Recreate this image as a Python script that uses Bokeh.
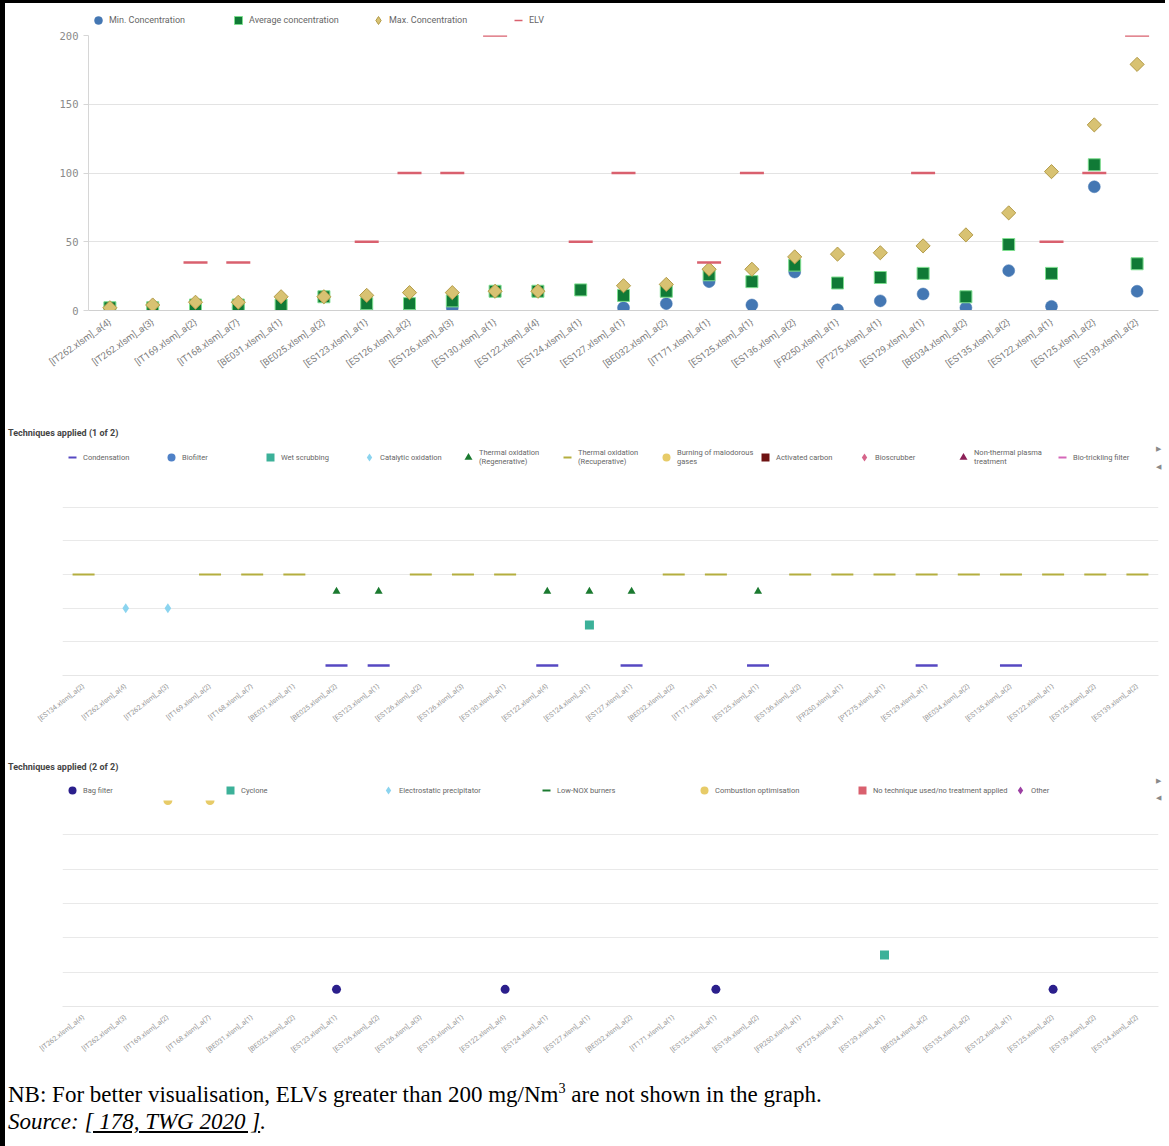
import math
from bokeh.plotting import figure
from bokeh.models import (ColumnDataSource, FactorRange, Range1d, Legend, LegendItem,
                          FixedTicker, Div, Spacer)
from bokeh.layouts import column, row
from bokeh.embed import file_html
from bokeh.resources import INLINE

nan = float("nan")

# ---------------- data: concentration chart ----------------
categories = ["[IT262.xlsm]_a{4}", "[IT262.xlsm]_a{3}", "[IT169.xlsm]_a{2}", "[IT168.xlsm]_a{7}",
              "[BE031.xlsm]_a{1}", "[BE025.xlsm]_a{2}", "[ES123.xlsm]_a{1}", "[ES126.xlsm]_a{2}",
              "[ES126.xlsm]_a{3}", "[ES130.xlsm]_a{1}", "[ES122.xlsm]_a{4}", "[ES124.xlsm]_a{1}",
              "[ES127.xlsm]_a{1}", "[BE032.xlsm]_a{2}", "[IT171.xlsm]_a{1}", "[ES125.xlsm]_a{1}",
              "[ES136.xlsm]_a{2}", "[FR250.xlsm]_a{1}", "[PT275.xlsm]_a{1}", "[ES129.xlsm]_a{1}",
              "[BE034.xlsm]_a{2}", "[ES135.xlsm]_a{2}", "[ES122.xlsm]_a{1}", "[ES125.xlsm]_a{2}",
              "[ES139.xlsm]_a{2}"]
min_conc = [nan, nan, nan, 2, nan, nan, 1, 1, 2, nan, nan, nan, 2, 5, 21, 4, 28, 0.5, 7, 12,
            2, 29, 3, 90, 14]
avg_conc = [2, 2, 4, 4, 4, 10, 5, 5, 7, 14, 14, 15, 11, 14, 26, 21, 33, 20, 24, 27,
            10, 48, 27, 106, 34]
max_conc = [2, 4, 6, 6, 10, 10, 11, 13, 13, 14, 14, nan, 18, 19, 30, 30, 39, 41, 42, 47,
            55, 71, 101, 135, 179]
elv = [nan, nan, 35, 35, nan, nan, 50, 100, 100, 200, nan, 50, 100, nan, 35, 100, nan, nan,
       nan, 100, nan, nan, 50, 100, 200]
y_ticks = [0, 50, 100, 150, 200]

# ---------------- data: techniques (1 of 2) ----------------
categories_t1 = ["[ES134.xlsm]_a{2}"] + categories
condensation = ["[BE025.xlsm]_a{2}", "[ES123.xlsm]_a{1}", "[ES122.xlsm]_a{4}", "[ES127.xlsm]_a{1}",
                "[ES125.xlsm]_a{1}", "[ES129.xlsm]_a{1}", "[ES135.xlsm]_a{2}"]
biofilter = []
wet_scrubbing = ["[ES124.xlsm]_a{1}"]
catalytic_oxidation = ["[IT262.xlsm]_a{4}", "[IT262.xlsm]_a{3}"]
thermal_regenerative = ["[BE025.xlsm]_a{2}", "[ES123.xlsm]_a{1}", "[ES122.xlsm]_a{4}",
                        "[ES124.xlsm]_a{1}", "[ES127.xlsm]_a{1}", "[ES125.xlsm]_a{1}"]
thermal_recuperative = ["[ES134.xlsm]_a{2}", "[IT169.xlsm]_a{2}", "[IT168.xlsm]_a{7}",
                        "[BE031.xlsm]_a{1}", "[ES126.xlsm]_a{2}", "[ES126.xlsm]_a{3}",
                        "[ES130.xlsm]_a{1}", "[BE032.xlsm]_a{2}", "[IT171.xlsm]_a{1}",
                        "[ES136.xlsm]_a{2}", "[FR250.xlsm]_a{1}", "[PT275.xlsm]_a{1}",
                        "[ES129.xlsm]_a{1}", "[BE034.xlsm]_a{2}", "[ES135.xlsm]_a{2}",
                        "[ES122.xlsm]_a{1}", "[ES125.xlsm]_a{2}", "[ES139.xlsm]_a{2}"]
burning_malodorous = []
activated_carbon = []
bioscrubber = []
non_thermal_plasma = []
bio_trickling = []

# ---------------- data: techniques (2 of 2) ----------------
categories_t2 = categories + ["[ES134.xlsm]_a{2}"]
bag_filter = ["[ES123.xlsm]_a{1}", "[ES122.xlsm]_a{4}", "[ES125.xlsm]_a{1}", "[ES125.xlsm]_a{2}"]
cyclone = ["[ES129.xlsm]_a{1}"]
electrostatic = []
low_nox = []
combustion_optimisation = ["[IT169.xlsm]_a{2}", "[IT168.xlsm]_a{7}"]
no_technique = []
other = []

# row level of each technique on the technique charts
level = {"Condensation": 0.3, "Biofilter": 1.0, "Wet scrubbing": 1.5, "Catalytic oxidation": 2.0,
         "Thermal oxidation (Regenerative)": 2.5, "Thermal oxidation (Recuperative)": 3.0,
         "Burning of malodorous gases": 3.5, "Activated carbon": 4.0, "Bioscrubber": 4.5,
         "Non-thermal plasma treatment": 5.0, "Bio-trickling filter": 5.5,
         "Bag filter": 0.5, "Cyclone": 1.5, "Electrostatic precipitator": 2.5,
         "Low-NOX burners": 3.5, "Combustion optimisation": 6.0,
         "No technique used/no treatment applied": 4.5, "Other": 5.5}

FONT = "Roboto"
BAR_L, BAR_T = 5, 3   # black frame edges of the page
W = 1160              # width of the content column
LEFT = 57             # frame left of technique charts (inside content column)
RIGHT = 7
SHIFT = 26            # extra indent of the concentration chart
ARROW_W = 11


def legend_strip(height, left, specs, label_width, glyph_h, font_size, width=W, right=RIGHT):
    f = figure(x_range=Range1d(0, 1), y_range=Range1d(0, 1), width=width, height=height,
               output_backend="svg", toolbar_location=None, title_location=None,
               x_axis_location=None, y_axis_location=None,
               min_border_left=LEFT, min_border_right=right, min_border_top=0, min_border_bottom=0)
    f.outline_line_color = None
    f.grid.visible = False
    items = []
    for label, kw in specs:
        r = f.scatter(x=[nan], y=[nan], **kw)
        items.append(LegendItem(label=label, renderers=[r]))
    leg = Legend(items=items, orientation="horizontal", location=(left, 0), glyph_width=20,
                 glyph_height=glyph_h, label_height=glyph_h, label_width=label_width,
                 label_standoff=1, spacing=0, padding=0, margin=0, border_line_color=None,
                 background_fill_alpha=0, label_text_font=FONT, label_text_font_size=font_size,
                 label_text_color="#666666", label_text_line_height=1.05)
    f.add_layout(leg, "center")
    return f


def arrows_div(height, top1, top2):
    html = ("<div style='position:relative;width:11px;height:%dpx;'>"
            "<span style='position:absolute;left:2px;top:%dpx;'>&#9654;</span>"
            "<span style='position:absolute;left:2px;top:%dpx;'>&#9664;</span></div>") % (height, top1, top2)
    return Div(text=html, width=ARROW_W, height=height, margin=(0, 0, 0, 0),
               styles={"font-size": "7px", "line-height": "8px", "color": "#8a8a8a",
                       "overflow": "visible"})


# ================= concentration chart =================
style_min = dict(marker="circle", size=12, fill_color="#4477b3", line_color="#4477b3", line_width=0.5)
style_avg = dict(marker="square", size=12, fill_color="#107a36", line_color="#7ede8f", line_width=1)
style_max = dict(marker="square", angle=math.pi / 4, size=10, fill_color="#d8c272",
                 line_color="#b39b48", line_width=1)
style_elv = dict(marker="dash", size=24, line_color="#d9606e", line_width=2.5)

leg_top = legend_strip(30 - BAR_T, SHIFT,
                       [("Min. Concentration", dict(style_min, size=9)),
                        ("Average concentration", dict(style_avg, size=9)),
                        ("Max. Concentration", dict(marker="diamond", size=10, fill_color="#d8c272",
                                                    line_color="#b39b48", line_width=1)),
                        ("ELV", dict(style_elv, size=10, line_width=1.5))],
                       119, 20, "9px")

src = ColumnDataSource(dict(cat=categories, mn=min_conc, avg=avg_conc, mx=max_conc, elv=elv))
p = figure(x_range=FactorRange(*categories), y_range=Range1d(0, 200), width=W - SHIFT, height=391,
           output_backend="svg", toolbar_location=None, title_location=None,
           min_border_left=LEFT, min_border_right=RIGHT, min_border_top=5, min_border_bottom=111)
p.outline_line_color = None
p.scatter("cat", "mn", source=src, **style_min)
p.scatter("cat", "avg", source=src, **style_avg)
p.scatter("cat", "mx", source=src, **style_max)
p.scatter("cat", "elv", source=src, **style_elv)

p.xgrid.grid_line_color = None
p.ygrid.grid_line_color = "#e3e3e3"
p.yaxis.ticker = FixedTicker(ticks=y_ticks)
p.yaxis.axis_line_color = "#d6d6d6"
p.yaxis.major_tick_line_color = "#d6d6d6"
p.yaxis.major_tick_out = 5
p.yaxis.major_tick_in = 0
p.yaxis.minor_tick_line_color = None
p.yaxis.major_label_text_font = "DejaVu Sans Mono"
p.yaxis.major_label_text_font_size = "10.5px"
p.yaxis.major_label_text_color = "#8a8a8a"
p.yaxis.major_label_standoff = 5
p.xaxis.axis_line_color = "#d0d0d0"
p.xaxis.major_tick_line_color = None
p.xaxis.major_label_orientation = 0.62
p.xaxis.major_label_text_font = FONT
p.xaxis.major_label_text_font_size = "9.5px"
p.xaxis.major_label_text_color = "#808080"
p.xaxis.major_label_standoff = 4

top_row = row(Spacer(width=SHIFT, height=391), p, spacing=0)


def tech_fig(cats, height, border_top, border_bottom):
    f = figure(x_range=FactorRange(*cats), y_range=Range1d(0, 6), width=W, height=height,
               output_backend="svg", toolbar_location=None, title_location=None,
               y_axis_location=None,
               min_border_left=LEFT, min_border_right=RIGHT, min_border_top=border_top,
               min_border_bottom=border_bottom)
    f.outline_line_color = None
    f.xgrid.grid_line_color = None
    f.ygrid.ticker = FixedTicker(ticks=[1, 2, 3, 4, 5, 6])
    f.ygrid.grid_line_color = "#e9e9e9"
    f.xaxis.axis_line_color = "#e6e6e6"
    f.xaxis.major_tick_line_color = None
    f.xaxis.major_label_orientation = 0.66
    f.xaxis.major_label_text_font = FONT
    f.xaxis.major_label_text_font_size = "7px"
    f.xaxis.major_label_text_color = "#9a9a9a"
    f.xaxis.major_label_standoff = 4
    return f


def mark(f, cats, lev, **kw):
    return f.scatter(x=cats, y=[lev] * len(cats), **kw)


def legend_style(kw):
    out = dict(kw, size=min(kw["size"], 9))
    if kw["marker"] == "dash":
        out["line_width"] = 2
    return out


# ================= techniques 1 of 2 =================
specs1 = [
    ("Condensation", condensation, dict(marker="dash", size=22, line_color="#5648c2", line_width=2.5)),
    ("Biofilter", biofilter, dict(marker="circle", size=9, fill_color="#4f81c7", line_color=None)),
    ("Wet scrubbing", wet_scrubbing, dict(marker="square", size=9, fill_color="#3cb199", line_color=None)),
    ("Catalytic oxidation", catalytic_oxidation, dict(marker="diamond", size=10, fill_color="#8bd4ef", line_color=None)),
    ("Thermal oxidation\n(Regenerative)", thermal_regenerative, dict(marker="triangle", size=8, fill_color="#1b7a30", line_color=None)),
    ("Thermal oxidation\n(Recuperative)", thermal_recuperative, dict(marker="dash", size=22, line_color="#b4ae3f", line_width=2)),
    ("Burning of malodorous\ngases", burning_malodorous, dict(marker="circle", size=9, fill_color="#e7cb68", line_color=None)),
    ("Activated carbon", activated_carbon, dict(marker="square", size=9, fill_color="#6e1212", line_color=None)),
    ("Bioscrubber", bioscrubber, dict(marker="diamond", size=10, fill_color="#d6648a", line_color=None)),
    ("Non-thermal plasma\ntreatment", non_thermal_plasma, dict(marker="triangle", size=8, fill_color="#8c2058", line_color=None)),
    ("Bio-trickling filter", bio_trickling, dict(marker="dash", size=22, line_color="#d567b8", line_width=2)),
]
t1 = tech_fig(categories_t1, 283, 2, 79)
for label, cats, kw in specs1:
    mark(t1, cats, level[label.replace("\n", " ")], **kw)
leg_t1 = legend_strip(28, 0, [(lab, legend_style(kw)) for lab, _, kw in specs1], 78, 28, "7.5px",
                      width=W - ARROW_W, right=0)
leg_t1_row = row(leg_t1, arrows_div(28, 2, 20), spacing=0)

# ================= techniques 2 of 2 =================
specs2 = [
    ("Bag filter", bag_filter, dict(marker="circle", size=9, fill_color="#2b1f8c", line_color=None)),
    ("Cyclone", cyclone, dict(marker="square", size=9, fill_color="#3cb199", line_color=None)),
    ("Electrostatic precipitator", electrostatic, dict(marker="diamond", size=10, fill_color="#8bd4ef", line_color=None)),
    ("Low-NOX burners", low_nox, dict(marker="dash", size=22, line_color="#1b7a30", line_width=2)),
    ("Combustion optimisation", combustion_optimisation, dict(marker="circle", size=9, fill_color="#e7cb68", line_color=None)),
    ("No technique used/no treatment applied", no_technique, dict(marker="square", size=9, fill_color="#d9606e", line_color=None)),
    ("Other", other, dict(marker="diamond", size=10, fill_color="#9c3fa3", line_color=None)),
]
t2 = tech_fig(categories_t2, 266, 0, 60)
for label, cats, kw in specs2:
    mark(t2, cats, level[label], **kw)
leg_t2 = legend_strip(20, 0, [(lab, legend_style(kw)) for lab, _, kw in specs2], 137, 20, "7.5px",
                      width=W - ARROW_W, right=0)
leg_t2_row = row(leg_t2, arrows_div(20, -3, 14), spacing=0)

# ================= text blocks =================
title_style = {"font-family": FONT, "font-size": "9px", "font-weight": "bold", "color": "#444444",
               "padding-left": "3px"}
title1 = Div(text="Techniques applied (1 of 2)", width=400, height=22, margin=(0, 0, 0, 0),
             styles=dict(title_style, **{"line-height": "24px"}))
title2 = Div(text="Techniques applied (2 of 2)", width=400, height=26, margin=(0, 0, 0, 0),
             styles=dict(title_style, **{"line-height": "26px"}))
footer = Div(text="NB: For better visualisation, ELVs greater than 200 mg/Nm<sup style='font-size:0.62em;line-height:0'>3</sup> "
                  "are not shown in the graph.<br><i>Source: <u>[ 178, TWG 2020 ]</u>.</i>",
             width=1100, height=80, margin=(0, 0, 0, 0),
             styles={"font-family": "Liberation Serif", "font-size": "23px", "line-height": "27px",
                     "color": "black", "padding-top": "15px", "padding-left": "3px"})

content = column(leg_top, top_row, title1, leg_t1_row, t1, title2, leg_t2_row, t2, footer, spacing=0)

top_bar = Div(text="", width=BAR_L + W, height=BAR_T, margin=(0, 0, 0, 0),
              styles={"background-color": "black"})
left_bar = Div(text="", width=BAR_L, height=1146 - BAR_T, margin=(0, 0, 0, 0),
               styles={"background-color": "black"})
layout = column(top_bar, row(left_bar, content, spacing=0), spacing=0)

with open("out.html", "w") as fh:
    fh.write(file_html(layout, INLINE))
